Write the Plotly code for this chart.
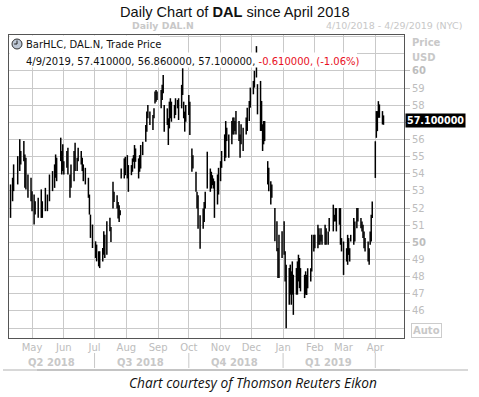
import plotly.graph_objects as go

dates = [
"2018-04-10","2018-04-12","2018-04-13","2018-04-17","2018-04-19","2018-04-20","2018-04-23","2018-04-24","2018-04-25","2018-04-27","2018-04-30",
"2018-05-01","2018-05-03","2018-05-04","2018-05-07","2018-05-10","2018-05-11","2018-05-14","2018-05-16","2018-05-18","2018-05-21","2018-05-23","2018-05-24","2018-05-25","2018-05-29","2018-05-30","2018-05-31",
"2018-06-01","2018-06-04","2018-06-05","2018-06-07","2018-06-08","2018-06-11","2018-06-12","2018-06-14","2018-06-15","2018-06-18","2018-06-19","2018-06-20","2018-06-22","2018-06-25","2018-06-26","2018-06-27","2018-06-29",
"2018-07-02","2018-07-03","2018-07-05","2018-07-06","2018-07-09","2018-07-10","2018-07-11","2018-07-13","2018-07-16","2018-07-17","2018-07-19","2018-07-20","2018-07-23","2018-07-24","2018-07-25","2018-07-26","2018-07-27","2018-07-30","2018-07-31",
"2018-08-02","2018-08-03","2018-08-06","2018-08-07","2018-08-08","2018-08-09","2018-08-10","2018-08-13","2018-08-14","2018-08-15","2018-08-17","2018-08-20","2018-08-21","2018-08-22","2018-08-24","2018-08-27","2018-08-28","2018-08-29","2018-08-30","2018-08-31",
"2018-09-04","2018-09-05","2018-09-06","2018-09-07","2018-09-10","2018-09-11","2018-09-12","2018-09-13","2018-09-14","2018-09-17","2018-09-18","2018-09-20","2018-09-21","2018-09-24","2018-09-25","2018-09-26","2018-09-27","2018-09-28",
"2018-10-01","2018-10-02","2018-10-04","2018-10-05","2018-10-08","2018-10-09","2018-10-10","2018-10-12","2018-10-15","2018-10-16","2018-10-17","2018-10-19","2018-10-22","2018-10-23","2018-10-24","2018-10-25","2018-10-26","2018-10-29","2018-10-30",
"2018-11-01","2018-11-02","2018-11-05","2018-11-06","2018-11-07","2018-11-09","2018-11-12","2018-11-13","2018-11-14","2018-11-15","2018-11-16","2018-11-19","2018-11-20","2018-11-21","2018-11-23","2018-11-26","2018-11-27","2018-11-29","2018-11-30",
"2018-12-03","2018-12-04","2018-12-06","2018-12-07","2018-12-10","2018-12-11","2018-12-12","2018-12-13","2018-12-14","2018-12-17","2018-12-18","2018-12-20","2018-12-21","2018-12-24","2018-12-26","2018-12-27","2018-12-28","2018-12-31",
"2019-01-02","2019-01-03","2019-01-04","2019-01-07","2019-01-08","2019-01-09","2019-01-10","2019-01-11","2019-01-14","2019-01-15","2019-01-16","2019-01-17","2019-01-18","2019-01-22","2019-01-23","2019-01-24","2019-01-25","2019-01-28","2019-01-29","2019-01-31",
"2019-02-01","2019-02-04","2019-02-05","2019-02-06","2019-02-07","2019-02-08","2019-02-11","2019-02-12","2019-02-14","2019-02-15","2019-02-19","2019-02-20","2019-02-21","2019-02-22","2019-02-25","2019-02-26","2019-02-27",
"2019-03-01","2019-03-04","2019-03-05","2019-03-06","2019-03-07","2019-03-08","2019-03-11","2019-03-12","2019-03-14","2019-03-15","2019-03-18","2019-03-19","2019-03-20","2019-03-21","2019-03-22","2019-03-25","2019-03-26","2019-03-27","2019-03-28","2019-03-29",
"2019-04-01","2019-04-02","2019-04-03","2019-04-04","2019-04-05","2019-04-08","2019-04-09"]

highs = [
53.38, 53.77, 54.55, 55.03, 56.01, 55.33, 55.91, 55.13, 54.94, 53.96, 53.77,
52.99, 52.79, 52.40, 52.60, 53.09, 52.40, 53.18, 52.79, 53.96, 54.16, 54.55, 55.13, 54.94, 56.11, 55.33, 55.72,
54.74, 55.33, 55.52, 53.96, 54.55, 55.33, 55.81, 54.94, 55.52, 55.33, 54.94, 54.55, 54.35, 53.77, 52.79, 51.62, 51.04,
50.06, 49.87, 49.48, 49.48, 49.67, 50.65, 50.45, 51.23, 51.43, 50.90, 53.53, 52.95, 52.75, 52.36, 52.17, 51.88, 54.31, 54.90, 54.99,
55.09, 54.51, 54.51, 54.90, 55.09, 55.68, 55.48, 54.90, 55.09, 55.68, 55.87, 56.85, 57.63, 58.02, 57.63, 57.43, 57.82, 58.80, 58.89, 58.80,
58.89, 59.19, 59.77, 58.02, 57.82, 57.24, 58.21, 58.41, 58.21, 58.02, 58.41, 58.31, 58.41, 59.19, 60.16, 58.21, 57.63, 58.02,
58.60, 58.21, 55.48, 55.09, 54.12, 52.95, 52.75, 51.58, 51.97, 52.36, 52.95, 55.29, 54.31, 54.12, 53.92, 53.73, 53.57, 53.96, 54.35,
54.74, 55.33, 56.30, 57.08, 56.69, 56.30, 57.08, 57.28, 57.28, 57.08, 57.67, 57.08, 56.30, 56.89, 56.69, 57.28, 57.86, 58.25, 59.03,
59.42, 60.01, 61.45, 59.23, 59.42, 58.25, 56.89, 57.08, 57.08, 54.74, 54.35, 53.57, 53.38, 52.01, 51.23, 49.67, 50.45, 50.65,
51.23, 49.48, 48.70, 48.50, 48.70, 48.31, 48.89, 48.11, 48.50, 48.89, 49.28, 49.09, 48.50, 48.11, 48.31, 48.10, 48.49, 48.49, 50.44, 50.44,
50.44, 51.03, 50.83, 50.44, 50.83, 50.44, 51.03, 50.83, 50.64, 51.42, 52.20, 51.61, 52.00, 52.00, 52.00, 52.00, 50.25,
50.05, 49.66, 50.44, 50.25, 49.66, 50.44, 51.42, 51.22, 52.00, 52.00, 51.42, 51.22, 51.03, 50.64, 50.25, 50.05, 49.66, 50.64, 51.61, 52.39,
55.90, 57.66, 57.66, 58.24, 58.05, 57.66, 57.41]

lows = [
51.43, 52.40, 52.99, 53.38, 54.16, 54.55, 54.74, 53.18, 53.09, 52.60, 52.40,
51.82, 51.04, 51.62, 51.43, 51.43, 51.43, 51.82, 51.82, 52.40, 52.99, 53.18, 53.77, 53.57, 54.74, 53.96, 54.16,
53.96, 54.35, 53.96, 52.60, 53.18, 53.57, 54.16, 54.16, 54.74, 54.55, 54.16, 53.57, 53.38, 52.60, 51.62, 50.26, 49.67,
49.09, 48.89, 48.60, 48.50, 48.89, 49.28, 49.09, 49.28, 50.65, 50.02, 51.97, 52.36, 51.97, 51.39, 51.19, 51.58, 53.73, 53.73, 53.92,
53.73, 52.95, 53.92, 54.12, 54.70, 54.31, 54.70, 53.73, 54.12, 54.31, 55.09, 55.87, 56.46, 57.24, 56.85, 56.55, 57.24, 58.11, 58.21, 58.31,
57.82, 58.31, 58.70, 56.46, 56.85, 55.68, 56.65, 57.24, 57.04, 57.24, 57.43, 57.82, 57.14, 57.82, 58.60, 57.24, 56.46, 57.04,
57.43, 56.26, 54.12, 54.31, 52.95, 51.97, 50.80, 49.63, 50.80, 51.19, 51.97, 53.14, 52.95, 53.14, 53.34, 53.14, 51.43, 52.21, 52.79,
53.57, 54.35, 54.74, 54.94, 55.91, 54.94, 55.72, 56.30, 56.30, 56.50, 56.30, 55.91, 54.94, 55.72, 55.33, 56.30, 56.50, 57.08, 57.86,
58.64, 59.03, 59.62, 57.47, 56.50, 56.50, 55.33, 55.72, 55.91, 53.38, 52.99, 52.21, 52.60, 50.06, 49.48, 47.92, 47.92, 49.09,
49.28, 47.72, 44.99, 46.36, 46.95, 46.36, 46.95, 45.77, 46.95, 46.95, 47.72, 47.33, 47.14, 46.75, 46.95, 46.93, 47.32, 47.71, 48.30, 49.47,
49.66, 49.66, 49.86, 49.86, 50.05, 49.86, 49.86, 49.86, 49.86, 50.64, 50.64, 51.22, 51.22, 50.64, 51.03, 49.86, 49.47,
48.10, 48.88, 48.69, 49.27, 48.88, 50.05, 49.86, 50.05, 50.83, 51.22, 50.83, 50.64, 50.25, 49.66, 49.47, 48.88, 48.69, 49.86, 50.05, 51.42,
53.76, 56.10, 56.49, 57.27, 57.27, 56.88, 56.86]

last_close = 57.10
price_ticks = list(range(46, 61))
quarters = ["Q2 2018", "Q3 2018", "Q4 2018", "Q1 2019"]
quarter_mid = ["2018-05-20", "2018-08-15", "2018-11-15", "2019-02-14"]
quarter_edges = ["2018-07-01", "2018-10-01", "2019-01-01", "2019-04-01"]

W, H = 479, 397
L, R, T, B = 9, 75, 35, 59
PW, PH = W - L - R, H - T - B

def px(x):
    return (x - L) / PW

def py(y):
    return (H - B - y) / PH

xs, ys = [], []
for d, hi, lo in zip(dates, highs, lows):
    xs += [d, d, None]
    ys += [lo, hi, None]

fig = go.Figure()
fig.add_trace(go.Scatter(x=xs, y=ys, mode="lines",
                         line=dict(color="black", width=1.5),
                         hoverinfo="skip", showlegend=False))

GRID = "#c9c9c9"
TXT = "#bdbdbd"
UI = "DejaVu Sans, Verdana, sans-serif"
SANS = "Liberation Sans, Arial, sans-serif"

ticktext = []
for v in price_ticks:
    if v == 57:
        ticktext.append("")
    elif v in (50, 60):
        ticktext.append("<b>%d</b>" % v)
    else:
        ticktext.append(str(v))

fig.update_layout(
    width=W, height=H,
    margin=dict(l=L, r=R, t=T, b=B),
    paper_bgcolor="white", plot_bgcolor="white",
    font=dict(family=UI, size=10, color=TXT),
    showlegend=False,
    xaxis=dict(type="date", range=["2018-04-08 12:00", "2019-04-29"],
               dtick="M1", tick0="2018-05-01", tickformat="%b",
               showgrid=True, gridcolor=GRID, gridwidth=1,
               showline=True, mirror=True, linecolor="#555555", linewidth=1,
               ticks="", tickfont=dict(family=UI, size=10, color=TXT), zeroline=False),
    yaxis=dict(side="right", range=[44.42, 62.1],
               tickvals=price_ticks, ticktext=ticktext,
               showgrid=True, gridcolor=GRID, gridwidth=1,
               minor=dict(dtick=1, tick0=0, showgrid=True, gridcolor=GRID, ticks=""),
               showline=True, mirror=True, linecolor="#555555", linewidth=1,
               ticks="outside", ticklen=5, tickcolor=TXT,
               tickfont=dict(family=UI, size=10, color=TXT), zeroline=False),
)

shapes = []
shapes.append(dict(type="rect", xref="paper", yref="paper", layer="above",
                   x0=px(9.6), x1=px(160), y0=py(52.5), y1=py(35.6),
                   fillcolor="white", line=dict(width=0)))
shapes.append(dict(type="rect", xref="paper", yref="paper", layer="above",
                   x0=px(9.6), x1=px(357), y0=py(67.5), y1=py(52.5),
                   fillcolor="white", line=dict(width=0)))
shapes.append(dict(type="circle", xref="paper", yref="paper", layer="above",
                   x0=px(12), x1=px(22), y0=py(49), y1=py(39),
                   fillcolor="#bcc6d4", line=dict(color="#303030", width=1)))
shapes.append(dict(type="line", xref="paper", yref="paper", layer="above",
                   x0=px(17), x1=px(17), y0=py(44), y1=py(40.5),
                   line=dict(color="#202020", width=1)))
shapes.append(dict(type="line", xref="paper", yref="paper", layer="above",
                   x0=px(17), x1=px(14.2), y0=py(44), y1=py(44),
                   line=dict(color="#202020", width=1)))
for q in quarter_edges:
    shapes.append(dict(type="line", xref="x", yref="paper", x0=q, x1=q,
                       y0=py(353), y1=py(368), line=dict(color="#c8c8c8", width=1)))
shapes.append(dict(type="line", xref="paper", yref="paper",
                   x0=px(3), x1=px(468), y0=py(370), y1=py(370),
                   line=dict(color="#d8d8d8", width=2)))
shapes.append(dict(type="line", xref="paper", yref="paper",
                   x0=px(37), x1=px(400), y0=py(370), y1=py(370),
                   line=dict(color="#c4c4c4", width=2)))
fig.update_layout(shapes=shapes)

ann = []
ann.append(dict(text="Daily Chart of <b>DAL</b> since April 2018", xref="paper", yref="paper",
                x=px(235), y=py(11.5), xanchor="center", yanchor="middle", showarrow=False,
                font=dict(family=SANS, size=14.6, color="#111111")))
ann.append(dict(text="<b>Daily DAL.N</b>", xref="paper", yref="paper",
                x=px(163), y=py(26), xanchor="center", yanchor="middle", showarrow=False,
                font=dict(family=UI, size=9.3, color="#c8c8c8")))
ann.append(dict(text="4/10/2018 - 4/29/2019 (NYC)", xref="paper", yref="paper",
                x=px(324), y=py(26), xanchor="left", yanchor="middle", showarrow=False,
                font=dict(family=UI, size=9.5, color="#c8c8c8")))
ann.append(dict(text="BarHLC, DAL.N, Trade Price", xref="paper", yref="paper",
                x=px(24), y=py(44), xanchor="left", yanchor="middle", showarrow=False,
                font=dict(family=UI, size=10, color="#111111")))
ann.append(dict(text="4/9/2019, 57.410000, 56.860000, 57.100000, "
                     "<span style='color:#e8101e'>-0.610000, (-1.06%)</span>",
                xref="paper", yref="paper",
                x=px(24), y=py(61), xanchor="left", yanchor="middle", showarrow=False,
                font=dict(family=UI, size=10, color="#111111")))
ann.append(dict(text="<b>Price</b>", xref="paper", yref="paper",
                x=px(410), y=py(43), xanchor="left", yanchor="middle", showarrow=False,
                font=dict(family=UI, size=10, color="#c8c8c8")))
ann.append(dict(text="<b>USD</b>", xref="paper", yref="paper",
                x=px(410), y=py(57), xanchor="left", yanchor="middle", showarrow=False,
                font=dict(family=UI, size=10, color="#c8c8c8")))
ann.append(dict(text="<b>%.6f</b>" % last_close, xref="paper", yref="y",
                x=px(404.5), y=last_close, xanchor="left", yanchor="middle", showarrow=False,
                bgcolor="black", borderpad=1,
                font=dict(family=UI, size=9.6, color="white")))
ann.append(dict(text="<b>Auto</b>", xref="paper", yref="paper",
                x=px(411), y=py(330.5), xanchor="left", yanchor="middle", showarrow=False,
                bordercolor="#cccccc", borderwidth=1, borderpad=1,
                font=dict(family=UI, size=10, color="#c8c8c8")))
for q, m in zip(quarters, quarter_mid):
    ann.append(dict(text="<b>%s</b>" % q, xref="x", yref="paper",
                    x=m, y=py(362), xanchor="center", yanchor="middle", showarrow=False,
                    font=dict(family=UI, size=10, color="#c8c8c8")))
ann.append(dict(text="<i>Chart courtesy of Thomson Reuters Eikon</i>", xref="paper", yref="paper",
                x=px(253), y=py(382.5), xanchor="center", yanchor="middle", showarrow=False,
                font=dict(family="Open Sans, sans-serif", size=13.7, color="#111111")))
fig.update_layout(annotations=ann)

fig.write_html("out.html",
               config={"displayModeBar": False},
               post_script="document.body.style.margin='0';document.body.style.overflow='hidden';")
